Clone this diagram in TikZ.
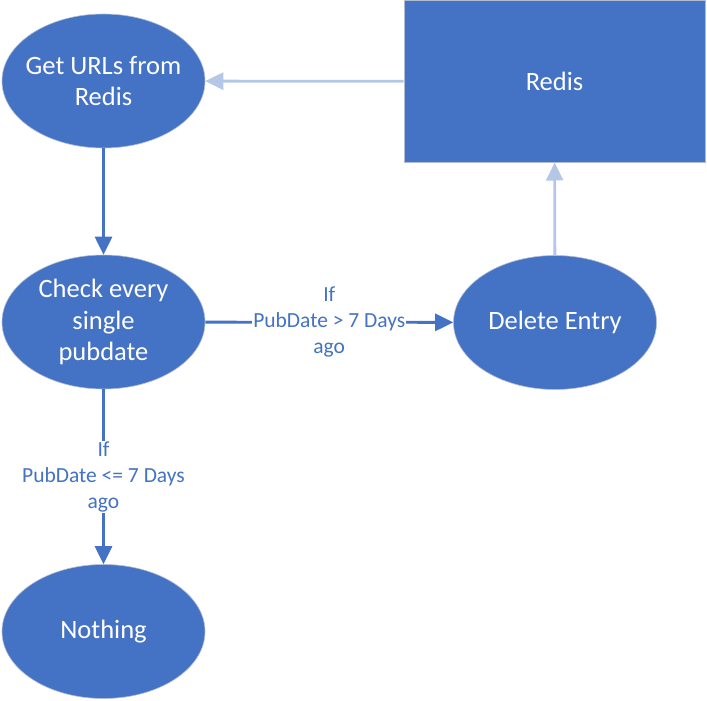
\documentclass[tikz,border=0pt]{standalone}
\usepackage{fontspec}
\setmainfont{Carlito}
\usetikzlibrary{arrows.meta,shapes.geometric}
\definecolor{nodeblue}{HTML}{4472C4}
\definecolor{lightblue}{HTML}{B4C7E7}
\definecolor{rectborder}{HTML}{B0BCD2}
\tikzset{
  oval/.style={ellipse, fill=nodeblue, draw=rectborder, line width=0.6pt, minimum width=203pt, minimum height=134pt, inner sep=0pt,
    label={[text=white, align=center, inner sep=0pt, font=\fontsize{26.5}{31.5}\selectfont]center:#1}},
  box/.style={rectangle, fill=nodeblue, draw=rectborder, line width=1pt, minimum width=301pt, minimum height=161pt, inner sep=0pt, text=white, font=\fontsize{26.5}{31.5}\selectfont},
  darrow/.style={draw=nodeblue, line width=2.8pt, -{Triangle[length=18pt,width=17pt]}},
  larrow/.style={draw=lightblue, line width=2.8pt, -{Triangle[length=18pt,width=17pt]}},
  lbl/.style={fill=white, text=nodeblue, align=center, inner sep=1pt, font=\fontsize{21.5}{26}\selectfont}
}
\begin{document}
\begin{tikzpicture}[x=1pt,y=-1pt]
\useasboundingbox (0,0) rectangle (707,701);
\node[oval={Get URLs from\\Redis}] (get) at (103.5,81) {};
\node[oval={Check every\\single\\pubdate}] (check) at (103.5,322) {};
\node[oval={Nothing}] (nothing) at (103.5,631.5) {};
\node[oval={Delete Entry}] (delete) at (555,322.5) {};
\node[box] (redis) at (554.5,81.5) {Redis};
\draw[darrow] (get) -- (check);
\draw[darrow] (check) -- node[lbl] {If\\PubDate <= 7 Days\\ago} (nothing);
\draw[darrow] (check) -- node[lbl] {If\\PubDate > 7 Days\\ago} (delete);
\draw[larrow] (delete) -- (redis);
\draw[larrow] (redis) -- (get);
\end{tikzpicture}
\end{document}
